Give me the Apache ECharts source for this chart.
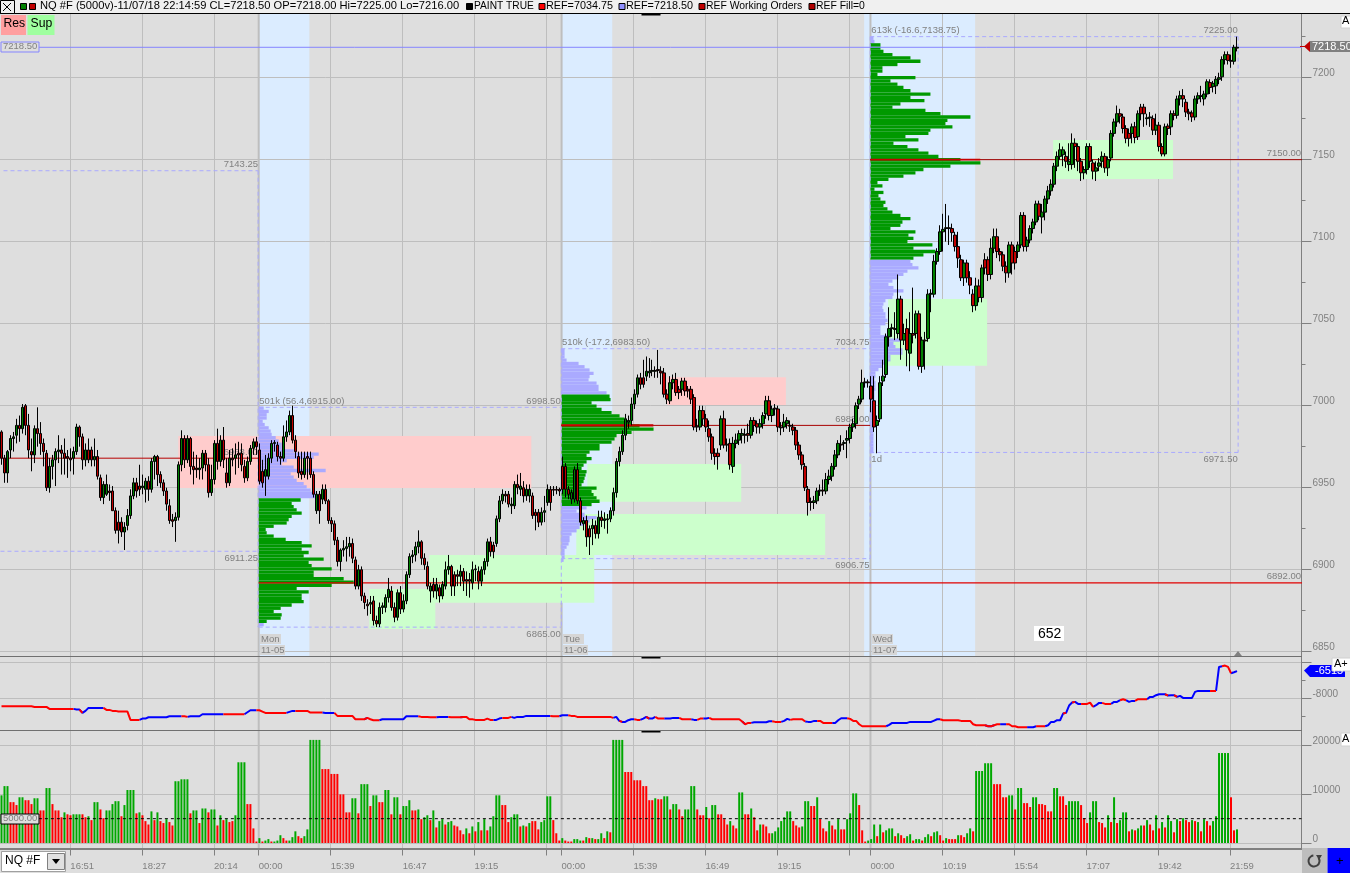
<!DOCTYPE html>
<html><head><meta charset="utf-8">
<style>html,body{margin:0;padding:0;background:#DEDEDE}#c{width:1350px;height:873px}</style>
<script src="https://cdn.jsdelivr.net/npm/echarts@6/dist/echarts.min.js"></script>
</head><body><div id="c"></div>
<script>
// [open, close, low, high]
const candles = [
[6984,6968,6964,6985],[6968,6959,6953,6970],[6959,6972,6953,6973],[6973,6980,6968,6982],[6980,6981,6972,6984],[6982,6988,6977,6992],[6988,6986,6978,6994],[6986,6999,6983,7001],[7000,6988,6982,7001],[6988,6973,6968,6995],
[6972,6970,6960,6980],[6970,6986,6965,6988],[6986,6983,6975,6999],[6983,6977,6970,6990],[6977,6972,6963,6980],[6971,6950,6948,6973],[6950,6963,6947,6968],[6963,6967,6955,6970],[6967,6972,6951,6974],[6972,6973,6965,6982],
[6973,6971,6958,6976],[6971,6968,6958,6980],[6969,6968,6956,6973],[6968,6967,6960,6974],[6968,6972,6958,6975],[6972,6987,6970,6989],[6987,6981,6975,6988],[6981,6967,6961,6983],[6967,6973,6963,6977],[6973,6967,6965,6980],
[6973,6967,6963,6975],[6967,6969,6963,6980],[6969,6957,6955,6973],[6956,6944,6942,6958],[6944,6952,6940,6954],[6946,6952,6945,6958],[6948,6947,6942,6952],[6948,6936,6936,6951],[6936,6924,6922,6938],[6929,6924,6916,6936],
[6929,6923,6920,6932],[6923,6926,6912,6929],[6927,6933,6924,6937],[6933,6945,6931,6949],[6945,6953,6943,6956],[6953,6948,6944,6956],[6951,6949,6945,6964],[6950,6951,6946,6958],[6949,6954,6941,6956],[6954,6949,6942,6957],
[6949,6966,6947,6968],[6966,6969,6955,6970],[6969,6958,6951,6970],[6958,6953,6950,6960],[6953,6948,6945,6955],[6948,6940,6936,6950],[6939,6930,6928,6943],[6930.5,6929.5,6926,6934],[6930,6932,6917,6935],[6932,6964,6930,6966],
[6964,6980,6960,6985],[6980,6967,6962,6982],[6967,6980,6965,6982],[6980,6963,6958,6981],[6963,6961,6952,6972],[6962,6961,6956,6970],[6961,6962,6955,6968],[6962,6971,6955,6973],[6971,6964,6960,6973],[6964,6947,6944,6968],
[6947,6955,6945,6964],[6955,6977,6952,6979],[6977,6966,6961,6986],[6966,6979,6963,6982],[6979,6967,6962,6987],[6959,6953,6950,6968],[6953,6968,6951,6973],[6968,6967,6963,6974],[6968,6970,6958,6977],[6971,6970,6962,6978],
[6971,6964,6960,6977],[6963,6956,6953,6967],[6956,6966,6954,6969],[6966,6974,6964,6976],[6974,6978,6970,6980],[6978,6975,6970,6981],[6973,6954,6952,6977],[6960,6953,6950,6967],[6957,6961,6945,6970],[6957,6968,6955,6971],
[6968,6977,6965,6979],[6977,6977.5,6972,6979],[6976,6969,6966,6978],[6969,6968,6964,6972],[6968,6981,6966,6988],[6981,6984,6978,6991],[6984,6994,6982,6997],[6994,6979,6977,7000],[6979,6972,6968,6982],[6969,6959,6956,6972],
[6960,6958,6955,6972],[6958,6968,6956,6972],[6969,6968,6955,6972],[6968,6958,6956,6972],[6958,6946,6944,6960],[6936,6946,6934,6948],[6946,6936,6928,6948],[6943,6949,6940,6952],[6949,6942,6940,6952],[6942,6930,6928,6943],
[6930,6928,6923,6932],[6928,6918,6915,6930],[6918,6905,6902,6920],[6905,6912,6899,6913],[6912,6913,6908,6918],[6913,6914,6905,6920],[6914,6916,6908,6920],[6916,6907,6904,6919],[6906,6890,6888,6908],[6890,6900,6888,6903],
[6900,6884,6881,6902],[6884,6880,6876,6886],[6879,6878,6872,6882],[6879,6880,6873,6884],[6881,6869,6866,6884],[6869,6867,6865,6872],[6867,6877,6865,6880],[6877,6878,6873,6880],[6877,6883,6874,6885],[6883,6888,6880,6895],
[6887,6877,6875,6890],[6877,6871,6868,6880],[6871,6886,6869,6888],[6886,6876,6873,6890],[6876,6881,6874,6885],[6881,6897,6879,6899],[6897,6908,6895,6910],[6908,6909,6904,6912],[6909,6914,6905,6917],[6914,6917,6910,6924],
[6917,6907,6903,6918],[6907,6903,6900,6910],[6902,6890,6888,6905],[6887,6890,6880,6892],[6891,6887,6883,6895],[6887,6891,6882,6895],[6889,6884,6880,6891],[6884,6891,6882,6893],[6890,6900,6888,6905],[6900,6902,6897,6909],
[6902,6890,6884,6903],[6897,6890,6884,6899],[6897,6896,6890,6900],[6896,6899,6890,6903],[6899,6893,6887,6901],[6894,6893,6884,6899],[6894,6893,6883,6898],[6892,6900,6888,6905],[6900,6900.5,6893,6903],[6899,6893,6888,6902],
[6893,6900,6890,6902],[6900,6905,6897,6907],[6905,6917,6902,6919],[6917,6911,6908,6920],[6915,6911,6907,6917],[6916,6931,6914,6933],[6931,6942,6929,6945],[6942,6946,6940,6949],[6946,6945,6941,6948],[6946,6940,6938,6948],
[6939,6940,6934,6944],[6939,6952,6937,6954],[6952,6950,6946,6958],[6949,6951,6945,6959],[6950,6945,6941,6954],[6945,6949,6942,6952],[6945,6949,6941,6952],[6945,6933,6931,6947],[6935,6933,6924,6937],[6935,6929,6926,6937],
[6929,6935,6927,6938],[6935,6936,6929,6945],[6941,6949,6939,6952],[6949,6941,6936,6951],[6949,6948.5,6945,6951],[6949,6948.5,6946,6951],[6949,6948,6945,6950],[6963,6949,6946,6969],[6963,6949,6944,6965],[6949,6946,6943,6951],
[6943,6947,6940,6949],[6943,6961,6941,6963],[6961,6942,6940,6965],[6942,6929,6927,6944],[6928,6930,6924,6932],[6930,6920,6914,6933],[6925,6920,6909,6927],[6925,6927,6915,6931],[6927,6922,6919,6930],[6922,6932,6919,6936],
[6932,6930,6926,6936],[6930,6931,6925,6935],[6930.5,6931,6922,6934],[6931,6936,6929,6938],[6936,6947,6933,6950],[6947,6966,6944,6968],[6966,6972,6963,6975],[6972,6982,6970,6985],[6982,6992,6979,6995],[6990,6991,6986,6994],
[6991,7001,6988,7005],[7001,7007,6998,7010],[7007,7017,7005,7019],[7017,7013,7010,7020],[7017,7013,7011,7028],[7018,7021,7015,7030],[7020,7021,7017,7029],[7021,7021.5,7018,7028],[7021,7021.5,7017,7024],[7022,7021.5,7017,7034],
[7021,7020,7013,7024],[7020,7007,7005,7023],[7007,7004,7001,7010],[7003,7014,7001,7018],[7014,7016,7010,7019],[7016,7008,7006,7020],[7010,7008,7004,7012],[7010,7015,7006,7017],[7015,7009,7006,7017],[7010,7009,7005,7012],
[7010,7004,7001,7012],[7005,6987,6985,7007],[6987.5,6987,6984,6992],[6987,6997,6985,7000],[6997,6992,6988,7000],[6992,6987,6984,6995],[6986,6981,6978,6991],[6981,6971,6967,6983],[6971,6969,6964,6974],[6971,6969,6961,6974],
[6976,6992,6973,6994],[6992,6976,6974,6997],[6976.5,6976,6972,6980],[6977,6964,6961,6980],[6963,6977,6959,6981],[6977,6979,6974,6983],[6979,6983,6976,6985],[6982,6983,6977,6986],[6982.5,6982,6977,6986],[6983,6982,6978,6989],
[6982,6991,6980,6993],[6991,6988,6984,6993],[6989,6987,6983,6991],[6987,6989,6983,6992],[6989,6994,6986,6996],[6995,7003,6992,7006],[7003,6994,6991,7006],[6994,6998,6990,7000],[6998.5,6998,6994,7001],[6998,6987,6984,7000],
[6987,6986.5,6982,6990],[6987,6990,6984,6995],[6989,6991,6986,6993],[6988,6987.5,6984,6991],[6987,6985,6982,6989],[6985,6976,6973,6987],[6976,6970,6967,6978],[6970,6964,6961,6972],[6963,6950,6948,6965],[6949,6941,6933,6951],
[6941.5,6941,6936,6944],[6941,6942,6937,6945],[6942,6948,6940,6950],[6948,6948.5,6945,6952],[6948.5,6948,6945,6955],[6948,6955,6946,6959],[6955,6957,6952,6961],[6957,6963,6954,6965],[6963,6970,6961,6973],[6970,6977,6968,6979],
[6976.5,6976,6972,6982],[6977,6977.5,6973,6979],[6979,6980,6968,6985],[6980,6987,6977,6989],[6987,6989,6984,6992],[6989,7000,6986,7002],[7001,7004,6998,7006],[7004,7014,7002,7022],[7014,7014.5,7011,7017],[7014.5,7014,7011,7016],
[7012,7004,6996,7018],[7003,6987,6984,7018],[6988,6991,6971,6994],[6992,7014,6990,7018],[7015,7018,7012,7028],[7019,7042,7017,7044],[7042,7047,7036,7060],[7047,7047.5,7042,7050],[7047,7046.5,7040,7057],[7044,7065,7041,7080],
[7065,7040,7028,7067],[7040,7044,7037,7050],[7047,7034,7024,7053],[7032,7044,7021,7057],[7044,7043,7038,7072],[7044,7056,7041,7058],[7056,7024,7022,7058],[7024,7040,7020,7042],[7040,7039.5,7022,7045],[7041,7068,7039,7071],
[7068,7068.5,7057,7071],[7068,7088,7066,7092],[7088,7094,7086,7096],[7094,7106,7092,7110],[7106,7107.5,7094,7117],[7108,7108.5,7100,7123],[7108.5,7108,7098,7116],[7108,7105.5,7100,7111],[7104,7097,7094,7106],[7097,7090,7084,7106],
[7089,7078,7076,7092],[7078,7087,7073,7089],[7087,7078,7075,7089],[7078,7073.5,7068,7082],[7068,7061,7057,7071],[7061,7073,7058,7078],[7073,7066,7063,7077],[7066,7084,7063,7086],[7089,7084,7080,7093],[7089,7080,7076,7091],
[7080,7096,7077,7102],[7096,7103,7093,7108],[7103,7094,7090,7108],[7094,7092,7088,7096],[7092,7085,7082,7094],[7085,7081,7075,7088],[7081,7098,7078,7100],[7098,7087,7080,7100],[7094,7087,7083,7097],[7094,7098,7090,7100],
[7098,7116,7096,7118],[7116,7097,7094,7118],[7097,7101,7094,7103],[7101,7108,7099,7110],[7108,7112,7105,7114],[7112,7123,7110,7125],[7123,7115.5,7113,7125],[7115,7118,7105,7123],[7118,7126,7113,7128],[7126,7131,7123,7134],
[7131,7135,7128,7138],[7135,7146,7133,7148],[7146,7152,7143,7155],[7152,7156,7150,7160],[7153,7156,7146,7158],[7152,7149,7145,7155],[7147,7149,7143,7160],[7147,7160,7144,7166],[7160,7158,7145,7163],[7158,7149,7143,7160],
[7149,7142,7137,7151],[7142,7144,7138,7146],[7144,7158,7141,7160],[7158,7149,7145,7160],[7148,7143,7138,7150],[7143,7145,7137,7149],[7146,7148,7143,7151],[7149,7152,7145,7155],[7152,7145,7142,7154],[7145,7150,7140,7152],
[7151,7166,7149,7168],[7166,7173,7164,7175],[7173,7178,7170,7183],[7178,7176.5,7172,7181],[7176,7169,7166,7178],[7169,7163,7160,7171],[7166,7163,7158,7169],[7166,7170,7160,7172],[7170,7163.5,7160,7173],[7164,7178,7162,7180],
[7182,7178,7174,7184],[7182,7178,7170,7184],[7175,7175.5,7171,7178],[7175.5,7176,7170,7179],[7175,7168,7165,7177],[7168,7171,7165,7178],[7171,7158,7155,7173],[7158,7153.5,7152,7160],[7153.5,7170,7152,7172],[7170.5,7169,7165,7172],
[7170,7178,7165,7180],[7178,7177,7174,7180],[7177,7187,7175,7189],[7187,7189,7183,7192],[7189,7187,7182,7193],[7185,7179,7176,7187],[7179,7178,7174,7181],[7178.5,7176,7173,7180],[7176,7187,7174,7189],[7187,7189,7184,7191],
[7189,7188.5,7185,7195],[7187,7190,7183,7192],[7190,7197.5,7188,7199],[7197,7194,7190,7199],[7194.5,7196.5,7191,7198],[7195,7199,7190,7201],[7199,7200,7196,7203],[7200.5,7211,7198,7213],[7211,7214,7208,7216],[7214,7210.5,7208,7216],
[7210.5,7210,7206,7214],[7210,7218.5,7208,7220],[7218,7218.5,7216,7225]
];
// volume in thousands; negative = down bar (red), positive = up bar (green)
const volumeK = [
9.8,11.7,11.7,-8.4,-8.4,-7.8,9.4,9.4,-8.8,-8.8,-8.0,9.2,9.2,-6.7,-6.7,11.3,11.3,-8.0,-6.7,-6.7,-5.3,6.3,-5.9,-5.7,5.9,5.9,5.9,-5.9,-5.3,5.5,
-4.7,8.4,8.4,-6.9,-5.1,6.7,6.7,8.0,8.6,8.6,-5.5,7.8,10.9,10.9,10.9,-6.1,6.3,-5.7,-4.5,-3.8,6.5,-4.7,6.3,-4.5,-4.1,4.9,-4.3,-3.6,12.7,12.7,
13.1,13.1,13.1,-6.1,6.7,6.7,-4.1,7.1,7.1,-6.3,6.9,6.9,-3.6,5.7,-4.7,4.9,-4.3,-4.5,5.7,16.6,16.6,16.6,-8.0,-8.0,-3.0,-0.3,1.0,-0.3,0.5,0.8,
-0.3,0.3,0.5,1.6,-1.0,-0.5,0.5,1.2,2.4,-1.4,-1.0,1.4,2.8,21.2,21.2,21.2,21.2,-15.2,-15.2,-15.2,-14.2,-14.2,-14.2,-10.0,-10.0,-6.3,-6.3,9.2,9.2,-6.1,
12.1,12.1,12.1,-7.6,9.8,9.8,-8.4,-8.4,10.9,10.9,-5.9,9.4,9.4,-5.9,7.6,7.6,8.8,-6.7,-6.7,6.9,-4.9,5.3,5.7,-4.7,6.7,-3.2,4.5,4.9,-3.8,4.3,
4.5,-3.6,-3.4,-2.6,-1.8,3.0,-2.0,3.4,-2.4,4.3,-2.6,4.9,-2.6,3.4,5.5,9.8,9.8,-7.8,-7.8,-4.3,5.3,5.9,5.9,-3.4,3.6,-3.4,4.1,-4.5,-4.5,-2.8,
4.3,4.7,9.6,9.6,-4.7,-2.0,-0.5,1.0,-0.5,-0.3,-0.3,0.8,0.8,0.5,-0.5,1.2,-1.0,1.0,-0.8,0.8,2.0,-1.0,2.4,-2.2,21.2,21.2,21.2,21.2,-14.6,-14.6,
-14.6,-12.9,-12.9,-12.9,-11.7,-11.7,-8.8,-8.8,9.2,-9.0,-9.0,9.6,9.6,-6.9,8.0,8.0,-6.9,-5.5,6.9,6.9,11.7,11.7,-6.9,-5.7,-5.7,7.4,-5.1,7.8,7.8,-5.9,
-5.9,-4.9,-3.8,4.5,-3.6,-3.0,10.4,10.4,-5.9,-5.9,7.1,-5.3,-2.6,3.8,-3.8,-3.4,-2.0,2.0,2.4,3.2,4.5,5.3,6.5,6.5,-4.5,-3.6,-3.2,3.4,8.6,8.6,
-7.6,-7.6,9.4,-4.9,-3.0,-2.4,4.5,-3.6,-2.8,4.9,-2.8,-2.8,4.9,6.1,10.2,10.2,-7.8,-2.6,-0.3,0.5,0.8,3.8,-1.4,3.8,-2.2,2.6,3.0,3.0,-1.4,2.0,
-1.6,-1.0,1.4,1.8,-0.5,0.8,0.8,-0.5,1.2,1.8,-1.4,2.2,2.4,-1.6,-0.5,1.0,-0.8,-0.8,-0.8,1.6,-1.6,-1.2,2.0,3.0,-2.4,14.8,14.8,14.8,16.4,16.4,
16.4,-12.1,-12.1,-12.1,-9.4,-9.4,9.8,9.8,-6.9,11.3,11.3,-8.2,-8.2,-7.4,9.4,9.4,-8.0,-8.0,-7.8,-6.5,-6.5,11.3,11.3,-9.6,-9.6,-7.8,8.6,8.6,8.6,8.6,
-7.8,-5.1,-4.1,6.3,8.6,8.6,-4.3,-4.1,-3.2,5.7,-4.3,9.4,-4.1,4.7,6.3,6.3,-2.4,2.8,-2.6,3.0,3.6,-3.6,4.7,-3.8,-2.6,5.7,-3.0,4.3,-3.2,5.7,
4.5,-2.2,4.9,-4.5,5.1,-4.7,-4.3,4.7,-4.5,4.3,-2.4,4.9,-4.5,-3.6,4.5,5.5,18.5,18.5,18.5,18.5,-9.4,-2.6,2.8
];
// cumulative delta runs: [last bar index of the run, value, r/b]
const deltaRuns = [
[10,-8463,'r'],[15,-8500,'r'],[24,-8610,'r'],[26,-8648,'b'],[27,-8833,'r'],[28,-8722,'b'],[34,-8555,'b'],[36,-8666,'r'],[38,-8722,'r'],[42,-8759,'r'],
[46,-9221,'r'],[48,-9147,'b'],[55,-9073,'b'],[60,-9018,'b'],[61,-9018,'r'],[62,-9055,'r'],[66,-9018,'b'],[74,-8907,'b'],[81,-8907,'r'],[82,-8796,'b'],
[85,-8685,'b'],[86,-8685,'r'],[87,-8759,'r'],[95,-8833,'r'],[96,-8777,'b'],[98,-8722,'b'],[102,-8722,'r'],[107,-8814,'r'],[111,-8833,'b'],[116,-8999,'r'],
[117,-8999,'b'],[121,-9184,'r'],[122,-9110,'b'],[123,-9184,'r'],[126,-9240,'r'],[134,-9184,'b'],[139,-9018,'b'],[142,-9055,'r'],[145,-9073,'r'],[149,-9055,'b'],
[153,-9073,'r'],[154,-9055,'b'],[155,-9055,'r'],[157,-9184,'r'],[160,-9221,'r'],[161,-9221,'b'],[162,-9147,'r'],[164,-9221,'r'],[165,-9221,'b'],[166,-9147,'b'],
[167,-9110,'b'],[169,-9110,'r'],[170,-9055,'r'],[171,-9110,'b'],[174,-9055,'b'],[183,-8999,'b'],[186,-9018,'r'],[189,-8962,'b'],[191,-8999,'r'],[203,-9055,'r'],
[204,-9110,'r'],[205,-9055,'b'],[206,-9277,'b'],[207,-9332,'r'],[208,-9332,'b'],[209,-9240,'b'],[211,-9184,'b'],[213,-9221,'r'],[214,-9147,'b'],[215,-9055,'b'],
[216,-9147,'r'],[217,-9147,'b'],[218,-9055,'b'],[221,-9147,'r'],[223,-9147,'b'],[226,-9110,'b'],[230,-9184,'r'],[232,-9221,'b'],[234,-9147,'r'],[235,-9147,'b'],
[236,-9110,'b'],[246,-9184,'r'],[247,-9314,'r'],[248,-9462,'b'],[250,-9388,'r'],[255,-9351,'b'],[257,-9295,'b'],[260,-9332,'r'],[261,-9277,'b'],[262,-9166,'b'],
[263,-9221,'b'],[267,-9184,'r'],[268,-9314,'r'],[270,-9332,'b'],[272,-9277,'b'],[273,-9277,'r'],[277,-9388,'r'],[278,-9388,'b'],[279,-9240,'b'],[282,-9129,'b'],
[283,-9166,'r'],[285,-9277,'r'],[286,-9462,'r'],[295,-9573,'r'],[296,-9499,'b'],[302,-9388,'b'],[310,-9332,'b'],[311,-9258,'b'],[313,-9184,'b'],[319,-9240,'r'],
[323,-9277,'r'],[324,-9462,'r'],[328,-9517,'r'],[329,-9573,'b'],[330,-9573,'r'],[331,-9517,'b'],[333,-9462,'r'],[335,-9462,'b'],[336,-9462,'r'],[338,-9573,'r'],
[342,-9628,'r'],[344,-9628,'b'],[345,-9573,'b'],[348,-9573,'r'],[349,-9517,'b'],[351,-9332,'b'],[353,-9240,'b'],[354,-8870,'b'],[355,-8833,'r'],[356,-8426,'b'],
[357,-8259,'b'],[358,-8222,'r'],[360,-8333,'b'],[362,-8333,'r'],[363,-8259,'r'],[364,-8500,'r'],[365,-8407,'b'],[367,-8278,'b'],[370,-8333,'r'],[372,-8222,'b'],
[373,-8130,'b'],[374,-8074,'r'],[375,-8130,'r'],[376,-8222,'b'],[378,-8167,'b'],[382,-8074,'r'],[384,-7945,'b'],[385,-7852,'b'],[388,-7797,'b'],[389,-7870,'r'],
[391,-7852,'b'],[392,-7945,'r'],[393,-7889,'b'],[397,-8000,'b'],[398,-7667,'b'],[403,-7612,'b'],[405,-7612,'r'],[406,-6280,'b'],[407,-6243,'b'],[408,-6205,'r'],
[409,-6280,'r'],[410,-6631,'r'],[411,-6575,'b'],[412,-6515,'b']
];
// volume-at-price profiles: one width per 2-point row from the session high down
const profileMon = [5,10,8,8,4,6,10,12,13,17,20,23,23,35,60,55,28,23,35,67,32,35,38,45,48,52,57,57,42,33,35,38,43,33,30,28,15,7,8,15,27,43,53,43,50,45,65,50,53,73,55,55,85,95,73,38,50,43,43,45,33,22,15,23,22,8,5];
const profileTue = [3,3,3,5,17,23,28,32,28,27,35,37,37,45,48,49,30,35,40,50,58,63,70,78,92,70,55,53,50,38,38,28,25,30,25,22,20,25,24,23,22,20,35,30,32,35,38,30,25,15,23,35,28,22,18,15,10,8,8,7,5,3,3,3,2];
const profileWed = [3,4,10,10,13,22,40,50,27,12,12,7,45,20,27,33,40,60,40,54,30,22,55,70,100,77,75,82,60,58,35,48,23,37,48,58,68,90,110,80,53,45,33,18,7,12,4,13,8,10,15,13,17,22,30,40,32,30,20,45,38,43,37,62,43,65,53,43,40,42,48,37,33,28,22,18,23,33,23,22,15,13,12,13,15,15,17,15,10,10,10,17,30,23,25,32,32,20,20,15,12,8,5,5,4,5,5,5,4,4,4,4,4,4,3,3,3,3,3,3,3,3,3,3,3,3,3];
// session start bar, session high, value-area high, value-area low
const profileSessions = [
  [86.1,6999.5,6944,6866.7,profileMon],
  [187.1,7034.75,7006.4,6938.8,profileTue],
  [290.1,7225,7221,7090,profileWed]
];
const sessionShades = [[86.1,103],[187,204],[288,325]];
// [first bar, last bar, top price, bottom price]
const resistanceZones = [[59.3,177,6981.5,6949.8],[222.3,261.9,7017.4,7000.4]];
const supportZones = [[123,145,6888.2,6863.8],[143,198,6908.9,6879.8],[195.7,247,6964.4,6941.4],[192,275,6933.9,6908.9],[296,329,7065,7024.3],[351,391,7162,7138.2]];
// [first bar, last bar, price, colour, width]
const levelLines = [
  [0,86,6968,'#B80000',1],[86.1,434,6892,'#E00000',1.2],[187,290,6988,'#A80000',1],[187,217.7,6988,'#C80000',2.2],
  [290,434,7150,'#A00000',1],[290,326.7,7150,'#C80000',1.6],[12.8,434,7218.5,'#8585FF',1]
];
// [x1,p1,x2,p2]
const rangeLines = [
  [1,7143.25,85.9,7143.25],[85.9,7143.25,85.9,6865],[0,6911.25,85.9,6911.25],[86.1,6999,187,6999],[86.1,6865,187,6865],
  [187,7034.75,187,6865],[187,7034.75,290,7034.75],[187,6906.75,290,6906.75],[290,7225,290,6906.75],[290,7225,412.7,7225],[290,6971.5,412.7,6971.5],[412.7,7225,412.7,6971.5]
];
// [text, bar, price, align, above?]
const annotations = [
  ['7143.25',85.9,7143.25,'right',1],['6911.25',85.9,6911.25,'right',0],['6968.00',85.9,6968,'right',1],
  ['501k (56.4,6915.00)',86.3,6999,'left',1],['6998.50',186.8,6999,'right',1],['6865.00',186.8,6865,'right',0],
  ['510k (-17.2,6983.50)',187.2,7034.75,'left',1],['7034.75',289.8,7034.75,'right',1],['6906.75',289.8,6906.75,'right',0],['6988.00',289.8,6988,'right',1],
  ['613k (-16.6,7138.75)',290.4,7225,'left',1],['7225.00',412.6,7225,'right',1],['1d',290.4,6971.5,'left',0],['6971.50',412.6,6971.5,'right',0],
  ['7150.00',433.7,7150,'right',1],['6892.00',433.7,6892,'right',1]
];
const gridBars = [23.3,47.3,71.2,86.1,110.1,134.1,158.1,182.1,187.1,211.1,235.1,259.1,283.1,290.1,314.2,338.1,362.1,386,410];
const dayBars = [86.1,187.1,290.1];
const timeLabels = ['16:51','18:27','20:14','00:00','15:39','16:47','19:15','','00:00','15:39','16:49','19:15','','00:00','10:19','15:54','17:07','19:42','21:59'];
const priceTicks = [6850,6900,6950,7000,7050,7100,7150,7200];
const priceMinorTicks = [6875,6925,6975,7025,7075,7125,7175,7225];
const deltaTicks = [-8000,-6000];
const deltaMinorTicks = [-9000,-7000];
const volumeTicks = [0,10000,20000];
const dayLabels = [['Mon','11-05',261],['Tue','11-06',564],['Wed','11-07',873]];

const N = 434;
const XMIN = -0.1667, XMAX = 433.8333;
const barIndex = Array.from({length:N},(_,i)=>String(i));
const grey = '#808080', gridC = '#BEBEBE', FONT = 'Liberation Sans';
const volumes = volumeK.map(v=>({value:Math.abs(v)*1000,itemStyle:{color:v<0?'#FF0000':'#00A800'}}));
const deltaVal=[],deltaCol=[];
{let s=0;deltaRuns.forEach(([e,v,c])=>{for(let i=s;i<=e;i++){deltaVal[i]=v;deltaCol[i]=c;}s=e+1;});}
const mkDelta=c=>deltaVal.map((v,i)=>(deltaCol[i]===c||deltaCol[i+1]===c)?v:null);

const PMIN=6847.4,PMAX=7238.8,DMIN=-9811,DMAX=-5700,VMIN=-1134,VMAX=23134;

function cust(items,xA,yA,z,draw){
  return {type:'custom',coordinateSystem:'cartesian2d',xAxisIndex:xA,yAxisIndex:yA,z,silent:true,clip:false,progressive:0,animation:false,
    data:items.map((_,i)=>[i,0]),renderItem:(p,api)=>draw(items[p.dataIndex],api)};
}
function box(x1,p1,x2,p2,fill,api){
  const a=api.coord([x1,p1]),b=api.coord([x2,p2]);
  return {type:'rect',shape:{x:a[0],y:a[1],width:b[0]-a[0],height:b[1]-a[1]},style:{fill}};
}
function seg(x1,p1,x2,p2,stroke,lineWidth,api,dash){
  const a=api.coord([x1,p1]),b=api.coord([x2,p2]);
  return {type:'line',shape:{x1:a[0],y1:a[1],x2:b[0],y2:b[1]},style:{stroke,lineWidth,lineDash:dash||null,fill:null}};
}
const profileRows=[];
profileSessions.forEach(([start,high,vaH,vaL,rows])=>rows.forEach((w,k)=>{
  const top=high-2*k,mid=top-1;
  profileRows.push([start,top,top-2,start+w/3,(mid<=vaH&&mid>=vaL)?'#009900':'#AAAAFF']);
}));

function xv(g,extra){return Object.assign({type:'value',gridIndex:g,min:XMIN,max:XMAX,position:'bottom',
  axisLine:{show:false},axisTick:{show:false,customValues:gridBars},axisLabel:{show:false},
  splitLine:{show:true,lineStyle:{color:gridC,width:1}}},extra||{});}
function yv(g,min,max,major,labels,extra){return Object.assign({type:'value',gridIndex:g,position:'right',min,max,
  axisLine:{show:true,onZero:false,lineStyle:{color:grey,width:1}},
  axisTick:{show:true,length:10,customValues:major,lineStyle:{color:grey}},
  axisLabel:{show:true,customValues:labels,margin:11,color:grey,fontFamily:FONT,fontSize:10,verticalAlign:'bottom',lineHeight:8,align:'left',showMinLabel:true,showMaxLabel:true,hideOverlap:false,formatter:v=>String(v)},
  splitLine:{show:true,lineStyle:{color:gridC,width:1}}},extra||{});}
function yMinor(g,min,max,t){return {type:'value',gridIndex:g,position:'right',min,max,axisLine:{show:false,onZero:false},
  axisTick:{show:true,length:4,customValues:t,lineStyle:{color:grey}},axisLabel:{show:false},splitLine:{show:false}};}

function T(x,y,text,o){return {type:'text',left:x,top:y,z:50,silent:true,style:Object.assign({text,font:'11.15px "'+FONT+'"',fill:'#000'},o||{})};}
function R(x,y,w,h,fill,o){return {type:'rect',left:x,top:y,z:49,silent:true,shape:{width:w,height:h},style:Object.assign({fill},o||{})};}
const hdr=s=>({font:s+'px "'+FONT+'"'});
const graphicEls=[
  R(0,0,1350,13,'#F0F0F0'),R(0,13,1350,1,'#000'),
  R(0,0,14,13,'#F0F0F0',{stroke:'#000',lineWidth:1}),
  {type:'line',z:50,silent:true,shape:{x1:3,y1:3,x2:11,y2:11},style:{stroke:'#000'}},{type:'line',z:50,silent:true,shape:{x1:11,y1:3,x2:3,y2:11},style:{stroke:'#000'}},
  R(20,3,6,6,'#008000',{stroke:'#000'}),R(29,3,6,6,'#C00000',{stroke:'#000'}),
  T(40,0.5,'NQ #F (5000v)-11/07/18 22:14:59 CL=7218.50 OP=7218.00 Hi=7225.00 Lo=7216.00'),
  R(466,3,6,6,'#000',{stroke:'#000'}),T(474,1.3,'PAINT TRUE',hdr(10.2)),
  R(538.5,3,6,6,'#FF0000',{stroke:'#000'}),T(546,0.8,'REF=7034.75',hdr(10.8)),
  R(618.5,3,6,6,'#9090FF',{stroke:'#000'}),T(626,0.8,'REF=7218.50',hdr(10.8)),
  R(698.5,3,6,6,'#C00000',{stroke:'#000'}),T(706,1.2,'REF Working Orders',hdr(10.4)),
  R(808.5,3,6,6,'#B00000',{stroke:'#000'}),T(816,1.2,'REF Fill=0',hdr(10.4)),
  R(1,15,25,20,'#FF9F9F'),T(3.5,18,'Res',{font:'12.2px "'+FONT+'"'}),
  R(27.5,15,27,20,'#9FFF9F'),T(30.5,18,'Sup',{font:'12.2px "'+FONT+'"'}),
  // left level tags
  R(0.5,41.5,38,10,'#DEDEDE',{stroke:'#8585FF'}),T(3,41.5,'7218.50',{font:'9.5px "'+FONT+'"',fill:grey}),
  R(0.5,813.5,38,10,'#DEDEDE',{stroke:'#000'}),T(3,813.5,'5000.00',{font:'9.5px "'+FONT+'"',fill:grey}),
  // session day labels
  ...dayLabels.flatMap(([d,m,x])=>[R(x-1,634,d.length*6+3,10,'#D6D6D6'),R(x-1,645,25,10,'#D6D6D6'),
    T(x,634.5,d,{font:'9.5px "'+FONT+'"',fill:grey}),T(x,645.5,m,{font:'9.5px "'+FONT+'"',fill:grey})]),
  R(1034,626,30,15,'#FFF'),T(1038,627,'652',{font:'14px "'+FONT+'"'}),
  // panel separators
  R(0,656,1302,1,'#707070'),R(0,730,1302,1,'#707070'),R(0,848,1302,2,'#808080'),
  R(641.5,657,19,1.5,'#000'),R(641.5,731,19,1.5,'#000'),R(641.5,14,19,1.5,'#000'),
  {type:'polygon',z:50,silent:true,shape:{points:[[1238,651],[1242,656],[1234,656]]},style:{fill:'#808080'}},
  // price tag
  {type:'line',z:50,silent:true,shape:{x1:1300,y1:46.5,x2:1305,y2:46.5},style:{stroke:'#C00000',lineWidth:1}},
  {type:'polygon',z:50,silent:true,shape:{points:[[1304,46.5],[1310,41],[1310,52]]},style:{fill:'#C00000'}},
  R(1310,41,40,11,'#808080'),T(1312,41,'7218.50',{font:'11px "'+FONT+'"',fill:'#FFF'}),
  // delta tag
  {type:'polygon',z:50,silent:true,shape:{points:[[1304,670.5],[1310,665],[1310,677]]},style:{fill:'#0000FF'}},
  R(1310,665,35,12,'#0000FF'),T(1315,665,'-6515',{font:'11px "'+FONT+'"',fill:'#FFF'}),
  // axis mode buttons
  R(1340.5,15.5,10,12,'#FFF',{stroke:'#D0D0D0',r:2}),T(1342,15.5,'A',{font:'11px "'+FONT+'"'}),
  R(1331.5,657.5,19,13,'#FFF',{stroke:'#D0D0D0',r:2}),T(1334,658,'A+',{font:'11px "'+FONT+'"'}),
  R(1340.5,732.5,10,13,'#FFF',{stroke:'#D0D0D0',r:2}),T(1342,733,'A',{font:'11px "'+FONT+'"'}),
  // symbol selector
  R(1,851,64,20,'#FFF',{stroke:'#A0A0A0'}),T(5,855,'NQ #F',{font:'12px "'+FONT+'"'}),
  R(47,853,17,16,'#E0E0E0',{stroke:'#808080'}),
  {type:'polygon',z:50,silent:true,shape:{points:[[52,859],[60,859],[56,864]]},style:{fill:'#000'}},
  // corner buttons
  R(1302,848,25,25,'#BDBDBD'),R(1327.5,848,22.5,25,'#0000FF'),
  {type:'arc',z:50,silent:true,shape:{cx:1314,cy:861,r:5.5,startAngle:-0.6,endAngle:4.6},style:{stroke:'#404040',lineWidth:2,fill:null}},
  {type:'polygon',z:50,silent:true,shape:{points:[[1316,855],[1322,855],[1319,860]]},style:{fill:'#404040'}},
  T(1336,855,'+',{font:'13px "'+FONT+'"'})
];

const option={
  animation:false,backgroundColor:'#DEDEDE',
  grid:[
    {left:-0.5,top:14,width:1302,height:642},
    {left:-0.5,top:656.5,width:1302,height:74},
    {left:-0.5,top:730.5,width:1302,height:118}
  ],
  xAxis:[
    ...[0,1,2].map(g=>({type:'category',gridIndex:g,data:barIndex,axisLine:{show:false},axisTick:{show:false},axisLabel:{show:false},splitLine:{show:false}})),
    xv(0),xv(1),
    xv(2,{axisTick:{show:true,length:7,customValues:gridBars,lineStyle:{color:grey}},
      axisLabel:{show:true,customValues:gridBars,align:'left',margin:13,color:grey,fontFamily:FONT,fontSize:9.5,hideOverlap:false,showMinLabel:true,showMaxLabel:true,
        formatter:v=>{const i=gridBars.indexOf(v);return i<0?'':timeLabels[i];}}})
  ],
  yAxis:[
    yv(0,PMIN,PMAX,priceTicks,priceTicks),yMinor(0,PMIN,PMAX,priceMinorTicks),
    yv(1,DMIN,DMAX,deltaTicks,[-8000]),yMinor(1,DMIN,DMAX,deltaMinorTicks),
    yv(2,VMIN,VMAX,volumeTicks,volumeTicks)
  ],
  graphic:{elements:graphicEls},
  series:[
    cust(sessionShades,3,0,-1,(s,api)=>box(s[0],PMAX,s[1],PMIN,'#DBECFF',api)),
    cust(dayBars,3,0,0.5,(x,api)=>seg(x,PMAX,x,PMIN,gridC,2,api)),
    cust(dayBars,4,2,0.5,(x,api)=>seg(x,DMAX,x,DMIN,gridC,2,api)),
    cust(dayBars,5,4,0.5,(x,api)=>seg(x,VMAX,x,VMIN,gridC,2,api)),
    cust(resistanceZones,3,0,1,(z,api)=>box(z[0],z[2],z[1],z[3],'#FFCCCC',api)),
    cust(supportZones,3,0,1,(z,api)=>box(z[0],z[2],z[1],z[3],'#CCFFCC',api)),
    cust(profileRows,3,0,2,(r,api)=>box(r[0],r[1],r[3],r[2],r[4],api)),
    cust(rangeLines,3,0,3,(l,api)=>seg(l[0],l[1],l[2],l[3],'#AAAAFF',1,api,[4,3])),
    cust(levelLines,3,0,3,(l,api)=>seg(l[0],l[2],l[1],l[2],l[3],l[4],api)),
    cust(annotations,3,0,3,(a,api)=>{const p=api.coord([a[1],a[2]]);
      return {type:'text',x:p[0],y:p[1]+(a[4]?-1:2),style:{text:a[0],fill:grey,font:'9.5px "'+FONT+'"',textAlign:a[3],textVerticalAlign:a[4]?'bottom':'top'}};}),
    {type:'candlestick',name:'NQ',xAxisIndex:0,yAxisIndex:0,z:5,silent:true,barWidth:3,data:candles,large:false,
      itemStyle:{color:'#008000',color0:'#C00000',borderColor:'#000',borderColor0:'#000',borderColorDoji:'#000',borderWidth:1}},
    {type:'line',name:'Delta up',xAxisIndex:1,yAxisIndex:2,z:5,silent:true,data:mkDelta('b'),showSymbol:false,connectNulls:false,lineStyle:{color:'#0000FF',width:2}},
    {type:'line',name:'Delta down',xAxisIndex:1,yAxisIndex:2,z:5,silent:true,data:mkDelta('r'),showSymbol:false,connectNulls:false,lineStyle:{color:'#FF0000',width:2}},
    {type:'bar',name:'Volume',xAxisIndex:2,yAxisIndex:4,z:4,silent:true,barWidth:2,data:volumes},
    cust([5000],5,4,6,(v,api)=>seg(12.8,v,XMAX,v,'#000',1,api,[3,3]))
  ]
};
const chart=echarts.init(document.getElementById('c'),null,{renderer:'canvas'});
chart.setOption(option);
</script></body></html>
